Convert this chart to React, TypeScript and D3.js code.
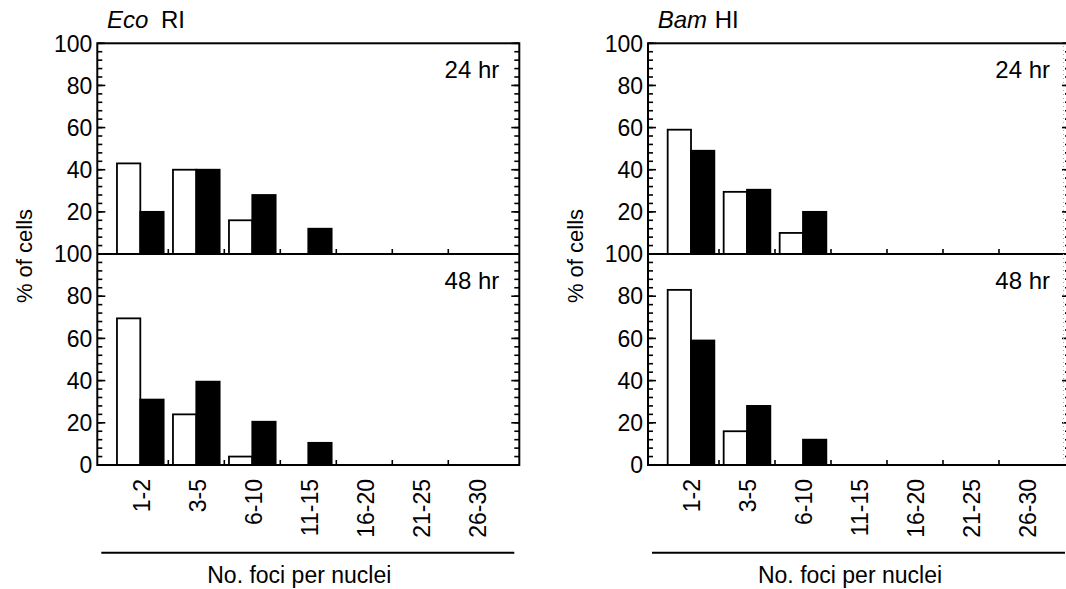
import React, { useEffect, useRef } from 'react';
import * as d3 from 'd3';

// foci-per-nucleus bins
const categories = ['1-2', '3-5', '6-10', '11-15', '16-20', '21-25', '26-30'];

// % of cells, open bars then filled bars
const ecoWhite24 = [43, 40, 16, 0, 0, 0, 0];
const ecoBlack24 = [20, 40, 28, 12, 0, 0, 0];
const ecoWhite48 = [69.5, 24, 4, 0, 0, 0, 0];
const ecoBlack48 = [31, 39.5, 20.5, 10.5, 0, 0, 0];

const bamWhite24 = [59, 29.5, 10, 0, 0, 0, 0];
const bamBlack24 = [49, 30.5, 20, 0, 0, 0, 0];
const bamWhite48 = [83, 16, 0, 0, 0, 0, 0];
const bamBlack48 = [59, 28, 12, 0, 0, 0, 0];

const rowLabels = ['24 hr', '48 hr'];
const topTicks = [20, 40, 60, 80, 100];
const bottomTicks = [0, 20, 40, 60, 80, 100];

const FONT = '"Liberation Sans", Arial, Helvetica, sans-serif';
const W = 1066;
const H = 589;

const drawPanel = (
  svg: d3.Selection<SVGSVGElement, unknown, null, undefined>,
  x0: number,
  x1: number,
  italic: string,
  rest: string,
  gap: number,
  rows: { white: number[]; black: number[] }[],
) => {
  const g = svg.append('g');
  const top = 43.3;
  const mid = 254;
  const bottom = 465;

  const x = d3.scaleBand<string>().domain(categories).range([x0, x1]).paddingOuter(0.268);
  const sub = d3.scaleBand<string>().domain(['white', 'black']).range([0, x.bandwidth()]).paddingOuter(0.2);

  const yScales = [
    d3.scaleLinear().domain([0, 100]).range([mid, top]),
    d3.scaleLinear().domain([0, 100]).range([bottom, mid]),
  ];

  rows.forEach((row, ri) => {
    const y = yScales[ri];
    const series = [
      { key: 'white', values: row.white, fill: '#fff' },
      { key: 'black', values: row.black, fill: '#000' },
    ];
    series.forEach(s => {
      g.append('g')
        .selectAll('rect')
        .data(categories.map((c, i) => ({ c, v: s.values[i] })).filter(d => d.v > 0))
        .join('rect')
        .attr('x', d => (x(d.c) as number) + (sub(s.key) as number))
        .attr('y', d => y(d.v))
        .attr('width', sub.bandwidth())
        .attr('height', d => y(0) - y(d.v))
        .attr('fill', s.fill)
        .attr('stroke', '#000')
        .attr('stroke-width', 1.8);
    });

    // y ticks, inward on both sides
    const minor = d3.range(0, 101, 4);
    const major = d3.range(0, 101, 20);
    const tk = g.append('g').attr('stroke', '#000').attr('stroke-width', 1.6);
    minor.forEach(v => {
      tk.append('line').attr('x1', x0).attr('x2', x0 + 5).attr('y1', y(v)).attr('y2', y(v));
      tk.append('line').attr('x1', x1).attr('x2', x1 - 5).attr('y1', y(v)).attr('y2', y(v));
    });
    major.forEach(v => {
      tk.append('line').attr('x1', x0).attr('x2', x0 + 8).attr('y1', y(v)).attr('y2', y(v));
      tk.append('line').attr('x1', x1).attr('x2', x1 - 8).attr('y1', y(v)).attr('y2', y(v));
    });

    // x ticks at bin boundaries
    categories.slice(1).forEach(c => {
      const xx = x(c) as number;
      tk.append('line').attr('x1', xx).attr('x2', xx).attr('y1', y(0)).attr('y2', y(0) - 5);
    });

    g.append('g')
      .selectAll('text')
      .data(ri === 0 ? topTicks : bottomTicks)
      .join('text')
      .attr('x', x0 - 5)
      .attr('y', d => y(d))
      .attr('dy', '0.36em')
      .attr('text-anchor', 'end')
      .attr('font-size', 23)
      .text(d => d);

    g.append('text')
      .attr('x', x1 - 20)
      .attr('y', y(100) + 34.5)
      .attr('text-anchor', 'end')
      .attr('font-size', 24)
      .text(rowLabels[ri]);
  });

  // frame
  g.append('rect')
    .attr('x', x0)
    .attr('y', top)
    .attr('width', x1 - x0)
    .attr('height', bottom - top)
    .attr('fill', 'none')
    .attr('stroke', '#000')
    .attr('stroke-width', 2);
  g.append('line')
    .attr('x1', x0).attr('x2', x1)
    .attr('y1', mid).attr('y2', mid)
    .attr('stroke', '#000').attr('stroke-width', 2);

  // rotated bin labels
  g.append('g')
    .selectAll('text')
    .data(categories)
    .join('text')
    .attr('transform', d => `translate(${(x(d) as number) + x.bandwidth() / 2 + 1},479) rotate(-90)`)
    .attr('dy', '0.36em')
    .attr('text-anchor', 'end')
    .attr('font-size', 23)
    .text(d => d);

  // axis title with rule above it
  g.append('line')
    .attr('x1', x0 + 4).attr('x2', x1 - 5)
    .attr('y1', 552.7).attr('y2', 552.7)
    .attr('stroke', '#000').attr('stroke-width', 2);
  g.append('text')
    .attr('x', x0 + 202)
    .attr('y', 583)
    .attr('text-anchor', 'middle')
    .attr('font-size', 23)
    .text('No. foci per nuclei');

  g.append('text')
    .attr('transform', `translate(${x0 - 65},256) rotate(-90)`)
    .attr('text-anchor', 'middle')
    .attr('font-size', 22)
    .text('% of cells');

  // enzyme title
  const title = g.append('text')
    .attr('x', x0 + 9.7)
    .attr('y', 27.7)
    .attr('font-size', 24);
  title.append('tspan').attr('font-style', 'italic').text(italic);
  title.append('tspan').attr('dx', gap).text(' ' + rest);
};

export default function App() {
  const ref = useRef<SVGSVGElement>(null);

  useEffect(() => {
    if (!ref.current) return;
    const svg = d3.select(ref.current);
    svg.selectAll('*').remove();

    drawPanel(svg, 97.3, 519.3, 'Eco', 'RI', 6, [
      { white: ecoWhite24, black: ecoBlack24 },
      { white: ecoWhite48, black: ecoBlack48 },
    ]);
    drawPanel(svg, 648, 1070, 'Bam', 'HI', 1, [
      { white: bamWhite24, black: bamBlack24 },
      { white: bamWhite48, black: bamBlack48 },
    ]);

    // faint cropped edge at the far right
    svg.append('line')
      .attr('x1', 1063.5).attr('x2', 1063.5)
      .attr('y1', 46).attr('y2', 462)
      .attr('stroke', '#aaa')
      .attr('stroke-width', 1)
      .attr('stroke-dasharray', '1 3');
  }, []);

  return (
    <svg
      ref={ref}
      width={W}
      height={H}
      viewBox={`0 0 ${W} ${H}`}
      style={{ position: 'absolute', left: 0, top: 0, background: '#fff', fontFamily: FONT }}
    />
  );
}
